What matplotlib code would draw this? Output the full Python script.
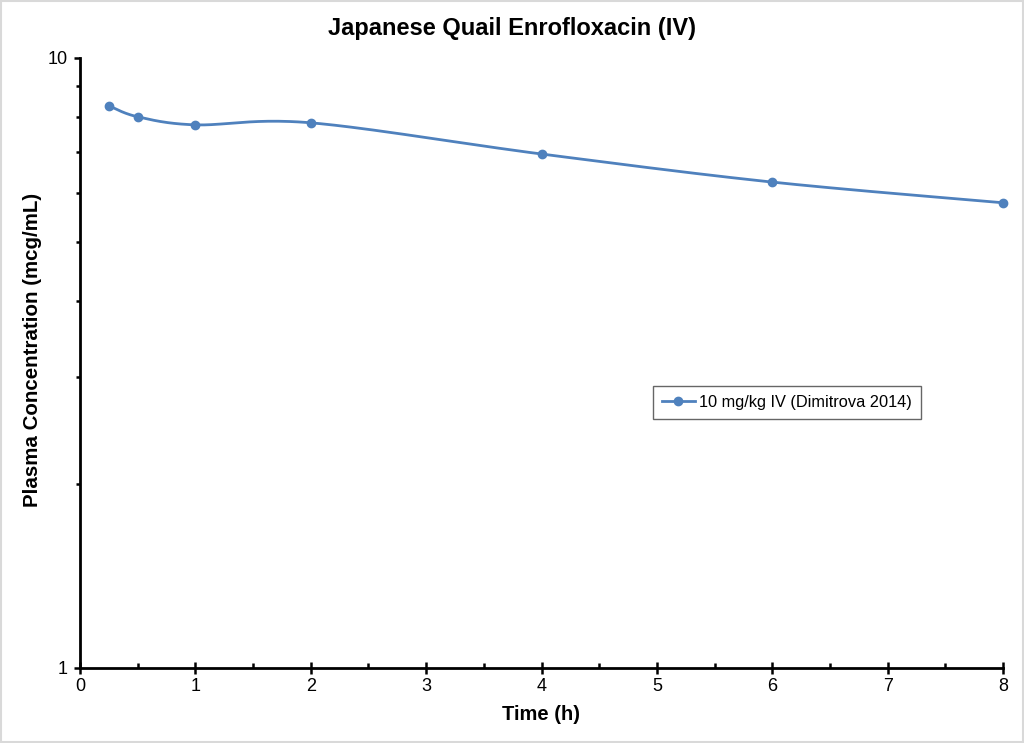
import numpy as np
import matplotlib
matplotlib.use("Agg")
import matplotlib.pyplot as plt
from matplotlib.patches import Rectangle
from matplotlib.ticker import LogLocator, FixedLocator, NullFormatter

plt.rcParams['font.family'] = ['Liberation Sans', 'DejaVu Sans']

# Enrofloxacin 10 mg/kg IV in Japanese quail (Dimitrova 2014)
time_h = [0.25, 0.5, 1, 2, 4, 6, 8]
conc = [8.35, 8.01, 7.77, 7.83, 6.96, 6.26, 5.79]
series_label = "10 mg/kg IV (Dimitrova 2014)"
x_ticks = [0, 1, 2, 3, 4, 5, 6, 7, 8]

blue = "#4F81BD"


def smooth_curve(xs, ys, n=40):
    # Excel-style smoothed line: cubic Bezier segments, control points from neighbours
    # done in (x, log10 y) space so it matches the log axis
    px = np.asarray(xs, float)
    py = np.log10(np.asarray(ys, float))
    out_x, out_y = [], []
    m = len(px)
    for i in range(m - 1):
        p0 = (px[max(i - 1, 0)], py[max(i - 1, 0)])
        p1 = (px[i], py[i])
        p2 = (px[i + 1], py[i + 1])
        p3 = (px[min(i + 2, m - 1)], py[min(i + 2, m - 1)])
        c1 = (p1[0] + (p2[0] - p0[0]) / 6, p1[1] + (p2[1] - p0[1]) / 6)
        c2 = (p2[0] - (p3[0] - p1[0]) / 6, p2[1] - (p3[1] - p1[1]) / 6)
        t = np.linspace(0, 1, n)
        a = (1 - t) ** 3
        b = 3 * (1 - t) ** 2 * t
        c = 3 * (1 - t) * t ** 2
        d = t ** 3
        out_x.extend(a * p1[0] + b * c1[0] + c * c2[0] + d * p2[0])
        out_y.extend(a * p1[1] + b * c1[1] + c * c2[1] + d * p2[1])
    return np.array(out_x), 10 ** np.array(out_y)


fig = plt.figure(figsize=(10.24, 7.43), dpi=100)
ax = fig.add_axes([80 / 1024, 1 - 668 / 743, 923 / 1024, 610 / 743])

sx, sy = smooth_curve(time_h, conc)
ax.plot(sx, sy, color=blue, lw=2, solid_capstyle='round', clip_on=False)
ax.plot(time_h, conc, 'o', color=blue, ms=6, lw=0, clip_on=False)
# legend proxy (line + marker)
ax.plot([], [], '-o', color=blue, lw=2, ms=6, label=series_label)

ax.set_yscale('log')
ax.set_ylim(1, 10)
ax.set_xlim(0, 8)

ax.xaxis.set_major_locator(FixedLocator(x_ticks))
ax.xaxis.set_minor_locator(FixedLocator(np.arange(0.5, 8, 1)))
ax.yaxis.set_major_locator(FixedLocator([1, 10]))
ax.yaxis.set_minor_locator(LogLocator(base=10, subs=np.arange(2, 10)))
ax.yaxis.set_minor_formatter(NullFormatter())
ax.set_yticklabels(['1', '10'])

for s in ['top', 'right']:
    ax.spines[s].set_visible(False)
for s in ['left', 'bottom']:
    ax.spines[s].set_linewidth(2)

ax.tick_params(axis='x', which='major', direction='inout', length=9, width=1.8,
               labelsize=13, pad=3)
ax.tick_params(axis='x', which='minor', direction='in', length=3.5, width=1.8)
ax.tick_params(axis='y', which='major', direction='out', length=4, width=1.8,
               labelsize=13, pad=5)
ax.tick_params(axis='y', which='minor', direction='out', length=3, width=1.8)

fig.text(0.5, 1 - 28 / 743, "Japanese Quail Enrofloxacin (IV)", fontsize=17,
         fontweight='bold', ha='center', va='center')
ax.set_xlabel("Time (h)", fontsize=14.5, fontweight='bold', labelpad=7)
ax.set_ylabel("Plasma Concentration (mcg/mL)", fontsize=14.8, fontweight='bold')
ax.yaxis.set_label_coords(-(80 - 33) / 923, (668 - 350) / 610)
ax.yaxis.label.set_va('center')

leg = ax.legend(loc='center', bbox_to_anchor=(0.766, 0.436), fontsize=11.8, frameon=True,
                fancybox=False, handlelength=2.0, handletextpad=0.3, borderpad=0.55,
                borderaxespad=0)
leg.get_frame().set_edgecolor('#404040')
leg.get_frame().set_linewidth(1.0)

fig.patches.append(Rectangle((0.001, 0.001), 0.998, 0.998, transform=fig.transFigure,
                             fill=False, edgecolor='#d9d9d9', lw=1.5))

fig.savefig("out.png", dpi=100)
